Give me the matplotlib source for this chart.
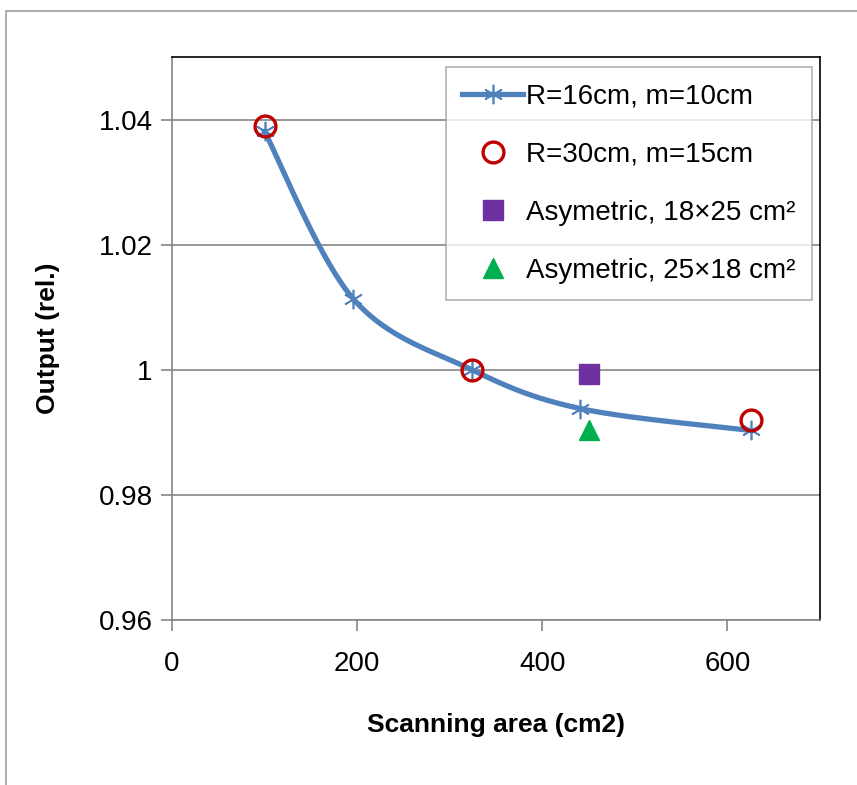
import numpy as np
import matplotlib
matplotlib.use("Agg")
import matplotlib.pyplot as plt
from matplotlib.patches import Rectangle

plt.rcParams['font.family'] = ['Liberation Sans Narrow', 'Liberation Sans', 'DejaVu Sans']

# data
area_16 = [100, 196, 324, 441, 625]
out_16 = [1.0381, 1.0113, 1.0000, 0.9938, 0.9903]
area_30 = [100, 324, 625]
out_30 = [1.0389, 1.0000, 0.9920]
area_asym1 = [450]
out_asym1 = [0.9994]
area_asym2 = [450]
out_asym2 = [0.9903]
labels = ['R=16cm, m=10cm', 'R=30cm, m=15cm',
          'Asymetric, 18×25 cm²', 'Asymetric, 25×18 cm²']


def smooth(xs, ys, n=40):
    # Catmull-Rom like smoothing, close to Excel's smoothed line
    x = np.asarray(xs, float)
    y = np.asarray(ys, float)
    px = np.concatenate([[x[0]], x, [x[-1]]])
    py = np.concatenate([[y[0]], y, [y[-1]]])
    sx, sy = [], []
    for i in range(1, len(px) - 2):
        p0 = np.array([px[i], py[i]])
        p1 = np.array([px[i + 1], py[i + 1]])
        c1 = p0 + (np.array([px[i + 1], py[i + 1]]) - np.array([px[i - 1], py[i - 1]])) / 6
        c2 = p1 - (np.array([px[i + 2], py[i + 2]]) - np.array([px[i], py[i]])) / 6
        t = np.linspace(0, 1, n)[:, None]
        b = (1 - t) ** 3 * p0 + 3 * (1 - t) ** 2 * t * c1 + 3 * (1 - t) * t ** 2 * c2 + t ** 3 * p1
        sx.extend(b[:, 0])
        sy.extend(b[:, 1])
    return sx, sy


fig = plt.figure(figsize=(8.57, 7.85), dpi=100)
ax = fig.add_axes([172 / 857, 1 - 620 / 785, (820 - 172) / 857, (620 - 57) / 785])

# outer chart border
fig.patches.append(Rectangle((6 / 857, -0.05), 1.1, 1.05 - 11 / 785,
                             transform=fig.transFigure, fill=False,
                             edgecolor='#a0a0a0', linewidth=1.2))

blue = '#4F81BD'
sx, sy = smooth(area_16, out_16)
ax.plot(sx, sy, color=blue, linewidth=3.8, zorder=3)
ax.plot(area_16, out_16, linestyle='none', marker=(6, 2, 0), markersize=14,
        markeredgecolor=blue, markeredgewidth=1.2, zorder=4)
h1, = ax.plot([], [], color=blue, linewidth=3.8, marker=(6, 2, 0), markersize=14,
              markeredgecolor=blue, markeredgewidth=1.2)
h2, = ax.plot(area_30, out_30, linestyle='none', marker='o', markersize=15,
              markerfacecolor='none', markeredgecolor='#C00000', markeredgewidth=2.4, zorder=5)
h3, = ax.plot(area_asym1, out_asym1, linestyle='none', marker='s', markersize=14,
              color='#7030A0', zorder=5)
h4, = ax.plot(area_asym2, out_asym2, linestyle='none', marker='^', markersize=15,
              color='#00B050', zorder=5)

ax.set_xlim(0, 700)
ax.set_ylim(0.96, 1.05)
ax.set_xticks([0, 200, 400, 600])
ax.set_yticks([0.96, 0.98, 1.0, 1.02, 1.04])
ax.set_yticklabels(['0.96', '0.98', '1', '1.02', '1.04'])
ax.grid(axis='y', color='#868686', linewidth=1.2)
ax.set_axisbelow(True)
for s in ['left', 'bottom']:
    ax.spines[s].set_color('#868686')
    ax.spines[s].set_linewidth(1.2)
for s in ['top', 'right']:
    ax.spines[s].set_color('black')
    ax.spines[s].set_linewidth(1.2)
ax.tick_params(axis='both', direction='out', length=8, width=1.2, color='#868686',
               labelsize=20, pad=6)
ax.tick_params(axis='x', pad=14)

ax.set_xlabel('Scanning area (cm2)', fontsize=19, fontweight='bold', labelpad=26)
ax.set_ylabel('Output (rel.)', fontsize=19, fontweight='bold', labelpad=28)

leg = ax.legend([h1, h2, h3, h4], labels, loc='upper right', bbox_to_anchor=(0.988, 0.982),
                fontsize=20, frameon=True, fancybox=False, edgecolor='#a0a0a0',
                handlelength=2.2, handletextpad=0.1, labelspacing=1.15, borderpad=0.6,
                borderaxespad=0)
leg.get_frame().set_linewidth(1.2)

fig.savefig('out.png', dpi=100)
